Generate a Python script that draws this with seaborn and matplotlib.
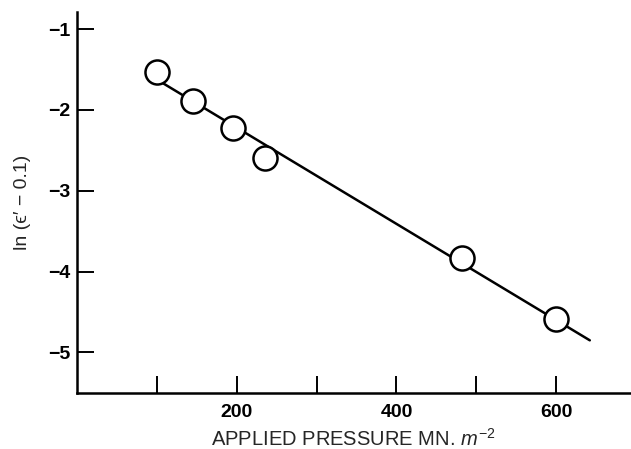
import matplotlib
matplotlib.use("Agg")
import matplotlib.pyplot as plt
import seaborn as sns
import pandas as pd

# Data
pressure = [100, 145, 195, 236, 482, 600]
ln_strain = [-1.53, -1.89, -2.22, -2.59, -3.83, -4.58]
fit_x = [101, 642]
fit_y = [-1.63, -4.85]
xticks = [100, 200, 300, 400, 500, 600]
xtick_labels = ["", "200", "", "400", "", "600"]
yticks = [-1, -2, -3, -4, -5]
ytick_labels = ["\u22121", "\u22122", "\u22123", "\u22124", "\u22125"]

sns.set_style("ticks")
plt.rcParams['font.family'] = ['Liberation Sans', 'DejaVu Sans']
plt.rcParams['mathtext.fontset'] = 'custom'
plt.rcParams['mathtext.it'] = 'Liberation Sans:italic'
plt.rcParams['mathtext.rm'] = 'Liberation Sans'

fig = plt.figure(figsize=(6.31, 4.49), dpi=100)
ax = fig.add_axes([0.122, 0.125, 0.876, 0.848])

pts = pd.DataFrame({"x": pressure, "y": ln_strain})
fit = pd.DataFrame({"x": fit_x, "y": fit_y})

sns.lineplot(data=fit, x="x", y="y", ax=ax, color="black", linewidth=1.8, zorder=2)
sns.scatterplot(data=pts, x="x", y="y", ax=ax, s=300, facecolor="white",
                edgecolor="black", linewidth=1.8, zorder=3, clip_on=False)

ax.set_xlim(0, 692)
ax.set_ylim(-5.5, -0.79)
ax.set_xticks(xticks)
ax.set_xticklabels(xtick_labels, fontsize=14, fontweight="bold")
ax.set_yticks(yticks)
ax.set_yticklabels(ytick_labels, fontsize=14, fontweight="bold")
ax.tick_params(axis="x", direction="in", length=12, width=1.4, pad=8, colors="black")
ax.tick_params(axis="y", direction="in", length=12, width=1.4, pad=5, colors="black")

for s in ["top", "right"]:
    ax.spines[s].set_visible(False)
for s in ["left", "bottom"]:
    ax.spines[s].set_linewidth(1.8)
    ax.spines[s].set_color("black")

ax.set_xlabel("APPLIED PRESSURE MN. $m^{-2}$", fontsize=14.5, labelpad=5)
ax.set_ylabel("ln (\u03f5\u2032 \u2212 0.1)", fontsize=14, labelpad=12)

fig.savefig("out.png", dpi=100)
